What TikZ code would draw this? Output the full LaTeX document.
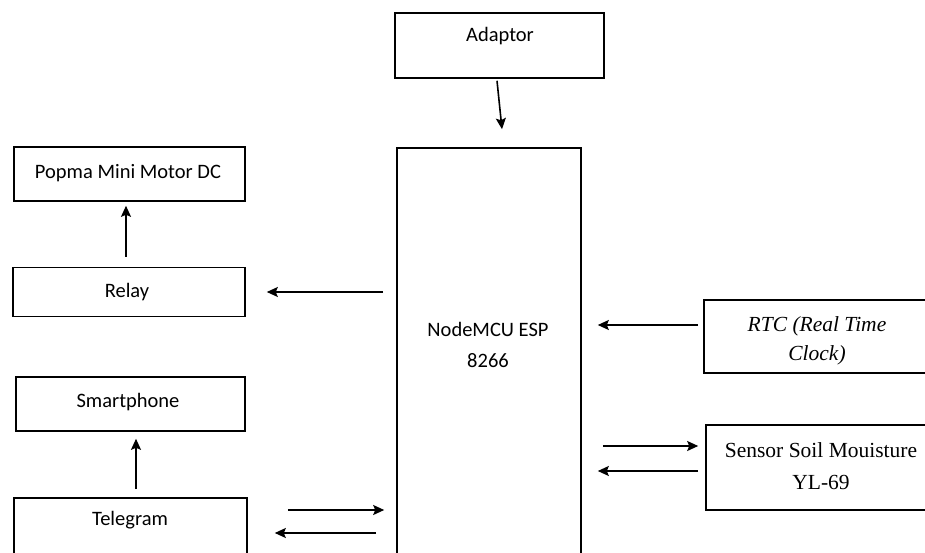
\documentclass[tikz,border=0pt]{standalone}
\usepackage{fontspec}
\setmainfont{Carlito}
\newfontfamily\timesfont{Liberation Serif}
\usetikzlibrary{arrows.meta,calc}
\begin{document}
\begin{tikzpicture}[x=1pt,y=-1pt,
  blk/.style={draw=black,line width=1.6pt,minimum width=#1,inner sep=0pt},
  lbl/.style={font=\fontsize{20.5}{31}\selectfont,align=center,inner sep=0pt},
  tlbl/.style={font=\timesfont\fontsize{21.5}{29}\selectfont,align=center,inner sep=0pt},
  arr/.style={line width=1.6pt,-{Stealth[length=11pt,width=10pt,inset=2pt]}}]
\clip (0,0) rectangle (925,553);
\fill[white] (0,0) rectangle (925,553);
% boxes
\node[blk=209pt,minimum height=65pt] (adaptor) at (499.5,45.5) {};
\node[blk=231pt,minimum height=54pt] (popma) at (129.5,174) {};
\node[blk=232pt,minimum height=49pt] (relay) at (129,292) {};
\node[blk=229pt,minimum height=54pt] (smart) at (130.5,404) {};
\node[blk=233pt,minimum height=82pt] (telegram) at (130.5,539) {};
\node[blk=184pt,minimum height=452pt] (nodemcu) at (489,374) {};
\node[blk=236pt,minimum height=73pt] (rtc) at (822,336.5) {};
\node[blk=234pt,minimum height=85pt] (sensor) at (823,467.5) {};
% labels
\node[lbl] (tadaptor) at (500,36) {Adaptor};
\node[lbl] (tpopma) at (128,173) {Popma Mini Motor DC};
\node[lbl] (trelay) at (127,292) {Relay};
\node[lbl] (tsmart) at (128,402) {Smartphone};
\node[lbl] (ttelegram) at (130,520) {Telegram};
\node[lbl] (tnode) at (488,344.5) {NodeMCU ESP\\8266};
\node[tlbl] (trtc) at (817,341) {\itshape RTC (Real Time\\\itshape Clock)};
\node[tlbl,font=\timesfont\fontsize{21.5}{32}\selectfont] (tsensor) at (821,466) {Sensor Soil Mouisture\\YL-69};
% connectors
\draw[arr] ($(adaptor.south)+(-2.5,2)$) -- ($(nodemcu.north)+(13,-18)$);
\draw[arr] ($(relay.north)+(-3,-10)$) -- ($(popma.south)+(-3.5,4)$);
\draw[arr] ($(telegram.north)+(5.5,-8)$) -- ($(smart.south)+(5.5,7)$);
\draw[arr] ($(nodemcu.west|-relay.east)+(-13,0)$) -- ($(relay.east)+(21,0)$);
\draw[arr] ($(rtc.west)+(-5,-11.5)$) -- ($(nodemcu.east|-rtc.west)+(16,-11.5)$);
\draw[arr] ($(nodemcu.east|-sensor.west)+(21,-21.5)$) -- ($(sensor.west)+(-7,-21.5)$);
\draw[arr] ($(sensor.west)+(-7,3.5)$) -- ($(nodemcu.east|-sensor.west)+(16,3.5)$);
\draw[arr] ($(telegram.east|-nodemcu.west)+(40,136)$) -- ($(nodemcu.west)+(-12,136)$);
\draw[arr] ($(nodemcu.west)+(-20,159)$) -- ($(telegram.east|-nodemcu.west)+(27,159)$);
\end{tikzpicture}
\end{document}
